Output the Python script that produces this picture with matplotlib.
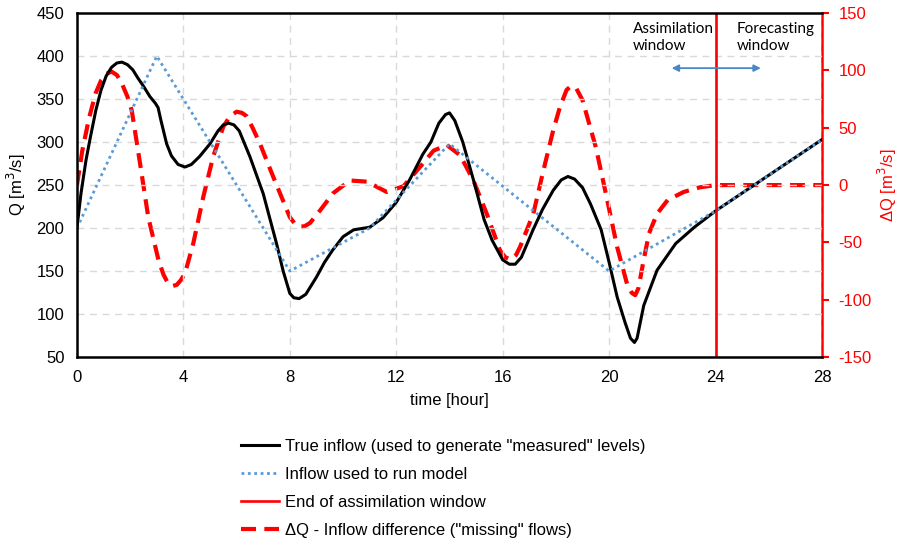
import matplotlib
matplotlib.use("Agg")
import matplotlib.pyplot as plt

plt.rcParams['font.family'] = ['Liberation Sans', 'DejaVu Sans']
plt.rcParams['axes.unicode_minus'] = False

# true inflow
t_true = [0, 0.15, 0.34, 0.5, 0.71, 0.9, 1.1, 1.3, 1.5, 1.69, 1.9, 2.1, 2.3, 2.5,
          2.74, 2.95, 3.05, 3.15, 3.37, 3.55, 3.8, 4.06, 4.3, 4.6, 5.0, 5.3, 5.5,
          5.7, 5.9, 6.1, 6.5, 7.0, 7.5, 7.75, 8.0, 8.15, 8.35, 8.6, 9.0, 9.3, 9.6,
          10.0, 10.4, 11.0, 11.5, 12.0, 12.5, 13.0, 13.3, 13.6, 13.85, 14.0,
          14.2, 14.5, 14.9, 15.3, 15.6, 16.0, 16.25, 16.47, 16.7, 17.14, 17.5,
          17.9, 18.2, 18.45, 18.7, 19.0, 19.3, 19.7, 20.0, 20.3, 20.6, 20.8,
          20.95, 21.05, 21.3, 21.8, 22.5, 23.2, 24.0, 28.0]
q_true = [200, 240, 279, 305, 337, 360, 377, 387, 392, 393, 390, 384, 374, 365,
          353, 345, 340, 326, 298, 284, 274, 271, 274, 283, 298, 313, 320,
          322, 320, 313, 283, 240, 182, 150, 124, 119, 118, 123, 143, 160, 174,
          190, 198, 201, 212, 230, 256, 286, 300, 322, 332, 334,
          325, 300, 256, 210, 186, 163, 158, 158, 166, 198, 222,
          244, 256, 260, 257, 247, 228, 198, 160, 120, 90, 72,
          67, 72, 110, 151, 182, 201, 220, 303]

# inflow used to run the model
t_model = [0, 3, 8, 11, 14, 20, 24, 28]
q_model = [200, 400, 150, 200, 298, 150, 220, 303]

# inflow difference dQ (right axis)
t_dq = [0, 0.2, 0.45, 0.7, 0.9, 1.1, 1.3, 1.5, 1.68, 1.9, 2.06, 2.37, 2.68, 3.06,
        3.25, 3.43, 3.6, 3.75, 3.9, 4.06, 4.37, 4.75, 5.12, 5.5, 5.75, 6.0, 6.2,
        6.38, 6.6, 6.88, 7.38, 8.0, 8.2, 8.38, 8.55, 8.76, 9.14, 9.63, 10.26,
        10.9, 11.64, 12.27, 12.9, 13.4, 13.9, 14.4, 14.9, 15.4, 15.9, 16.1, 16.3,
        16.5, 16.65, 17.15, 17.5, 17.9, 18.15, 18.4, 18.55, 18.75, 19.0, 19.5,
        19.9, 20.3, 20.67, 20.85, 20.98, 21.1, 21.3, 21.5, 21.8, 22.2, 22.8,
        23.4, 24.0, 28.0]
dq = [0, 30, 58, 80, 91, 97, 99, 96, 89, 77, 65, 19, -28, -65,
      -78, -86, -88, -87, -83, -77, -51, -10, 25, 51, 60, 64, 63,
      60, 50, 36, 7, -28, -34, -36, -36, -33, -22, -7, 4,
      3, -6, -1, 16, 30, 35, 26, 4, -25, -57, -63, -65,
      -61, -54, -25, 10, 48, 68, 83, 86, 85, 74, 33,
      -10, -54, -86, -94, -96, -90, -65, -42, -25, -13, -6,
      -2, 0, 0]

t_end = 24

fig = plt.figure(figsize=(8.98, 5.46), dpi=100)
ax = fig.add_axes([0.0857, 0.346, 0.8297, 0.630])
ax2 = ax.twinx()

ax.set_zorder(2)
ax.patch.set_visible(False)
ax2.set_zorder(1)

l1, = ax.plot(t_true, q_true, color='black', lw=2.2,
              label='True inflow (used to generate "measured" levels)')
l2, = ax.plot(t_model, q_model, color='#5B9BD5', lw=2, ls=(0, (1, 1.3)),
              label='Inflow used to run model')
l3 = ax.axvline(t_end, color='#FF0000', lw=1.9, label='End of assimilation window')
l4, = ax2.plot(t_dq, dq, color='#FF0000', lw=3, ls=(0, (3.6, 2.0)),
               label='\u0394Q - Inflow difference ("missing" flows)')

ax.set_xlim(0, 28)
ax.set_ylim(50, 450)
ax.set_xticks(range(0, 29, 4))
ax.set_yticks(range(50, 451, 50))
ax2.set_ylim(-150, 150)
ax2.set_yticks(range(-150, 151, 50))

ax.grid(True, color='#D9D9D9', ls=(0, (5, 4)), lw=1)
ax.tick_params(axis='both', length=0, labelsize=12, pad=9)
ax2.tick_params(axis='y', colors='#FF0000', labelsize=12, length=5, width=1.5, pad=7)

for s in ['left', 'bottom', 'top']:
    ax.spines[s].set_linewidth(1.8)
ax.spines['right'].set_visible(False)
ax2.spines['right'].set_color('#FF0000')
ax2.spines['right'].set_linewidth(1.8)
for s in ['left', 'bottom', 'top']:
    ax2.spines[s].set_visible(False)

ax.set_xlabel('time [hour]', fontsize=12, labelpad=6)
ax.set_ylabel('Q [m$^3$/s]', fontsize=12, labelpad=6)
ax2.set_ylabel('\u0394Q [m$^3$/s]', fontsize=12, color='#FF0000', labelpad=3)

# window annotations
ax.text(20.9, 440, 'Assimilation\nwindow', fontsize=11, family='Lato',
        ha='left', va='top', linespacing=1.3)
ax.text(24.8, 440, 'Forecasting\nwindow', fontsize=11, family='Lato',
        ha='left', va='top', linespacing=1.3)
ax.annotate('', xy=(22.35, 386), xytext=(25.7, 386),
            arrowprops=dict(arrowstyle='<|-|>', color='#4A86C5', lw=1.3,
                            mutation_scale=10, shrinkA=0, shrinkB=0))

fig.legend(handles=[l1, l2, l3, l4], loc='upper left',
           bbox_to_anchor=(0.268, 0.196), frameon=False, fontsize=12,
           handlelength=2.3, handletextpad=0.35, labelspacing=0.78,
           borderpad=0, borderaxespad=0)

fig.savefig('out.png', dpi=100)
